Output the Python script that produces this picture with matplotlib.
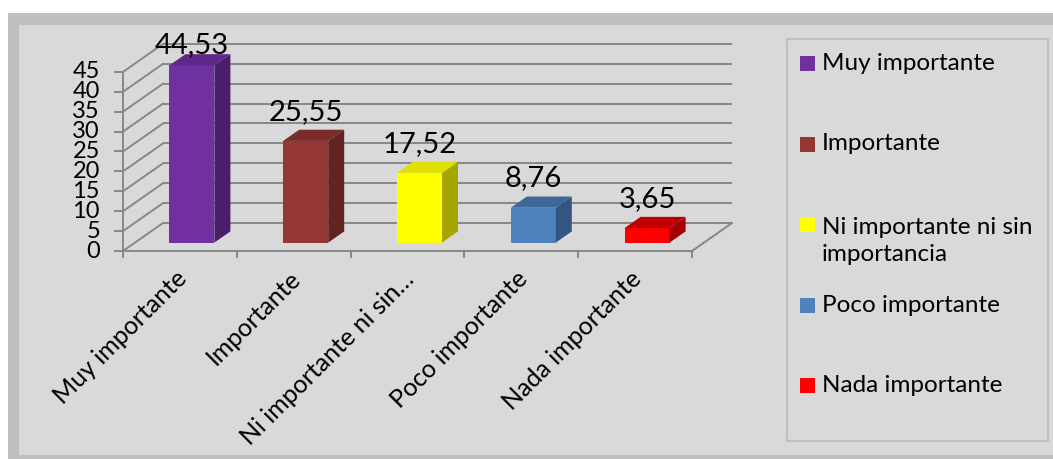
import matplotlib
matplotlib.use("Agg")
import matplotlib.pyplot as plt
from matplotlib.patches import Polygon, Rectangle

# ---------------- data ----------------
categories = ["Muy importante", "Importante", "Ni importante ni sin importancia",
              "Poco importante", "Nada importante"]
axis_labels = ["Muy importante", "Importante", "Ni importante ni sin\u2026",
               "Poco importante", "Nada importante"]
legend_labels = ["Muy importante", "Importante", "Ni importante ni sin\nimportancia",
                 "Poco importante", "Nada importante"]
values = [44.53, 25.55, 17.52, 8.76, 3.65]
y_ticks = [0, 5, 10, 15, 20, 25, 30, 35, 40, 45]

front_colors = ["#7030A0", "#953735", "#FFFF00", "#4F81BD", "#FF0000"]
side_colors = ["#4A1E6B", "#622321", "#A6A600", "#34557F", "#A60000"]
top_colors = ["#5D2888", "#7A2C2A", "#E0E000", "#3E6798", "#C00000"]

# ---------------- style ----------------
plt.rcParams['font.family'] = ['Lato', 'DejaVu Sans']
W, H = 1053, 459
GRID = "#878787"
BG = "#D9D9D9"
FRAME = "#BFBFBF"

fig = plt.figure(figsize=(W / 100, H / 100), dpi=100)
fig.patch.set_facecolor("white")

def disp(xp, yp):
    """pixel (from top-left) -> display coords"""
    return xp, H - yp

# outer frame
fig.patches.append(Rectangle(disp(8, 470), 1100, 470 - 13, transform=None,
                             facecolor=FRAME, edgecolor="none", zorder=0))
fig.patches.append(Rectangle(disp(19, 455), 1100, 455 - 25, transform=None,
                             facecolor=BG, edgecolor="none", zorder=0))
# legend box
fig.patches.append(Rectangle(disp(787, 441), 1048 - 787, 441 - 39, transform=None,
                             facecolor=BG, edgecolor=FRAME, lw=1.5, zorder=1))

# plot axes: x in category units, y in value units
X0, SX = 123.0, 113.8   # px of category 0, px per category
Y0, SY = 251.0, 3.98    # px (from top) of value 0, px per unit
ax = fig.add_axes([0, 0, 1, 1])
ax.set_zorder(5)
ax.set_xlim(-X0 / SX, (W - X0) / SX)
ax.set_ylim(-(H - Y0) / SY, Y0 / SY)
ax.axis("off")
ax.patch.set_alpha(0)

n = len(values)
DX = 40 / SX       # depth offset in x units
DY = 28 / SY       # depth offset in value units
ymax = y_ticks[-1]
lw = 1.4

# back wall & left wall gridlines
for v in y_ticks:
    ax.plot([DX, n + DX], [v + DY, v + DY], color=GRID, lw=lw, zorder=1,
            solid_capstyle="butt")
    ax.plot([0, DX], [v, v + DY], color=GRID, lw=lw, zorder=1)
# floor
ax.plot([0, n], [0, 0], color=GRID, lw=lw, zorder=1)
ax.plot([n, n + DX], [0, DY], color=GRID, lw=lw, zorder=1)
# vertical axis + ticks
ax.plot([0, 0], [0, ymax], color=GRID, lw=lw, zorder=1)
tick_len = 8 / SX
for v in y_ticks:
    ax.plot([-tick_len, 0], [v, v], color=GRID, lw=lw, zorder=1)
    ax.text(-23 / SX, v, str(v), ha="right", va="center", fontsize=17,
            color="black")
# category ticks
for i in range(n + 1):
    ax.plot([i, i], [0, -6 / SY], color=GRID, lw=lw, zorder=1)

# bars
bw = 45 / SX
d0, d1 = 0.3, 0.7
xs = [i + 0.5 + d0 * DX for i in range(n)]
bottom = d0 * DY
ax.bar(xs, values, width=bw, bottom=bottom, color=front_colors,
       edgecolor="none", zorder=3)
dd = (d1 - d0)
for x, v, sc, tc in zip(xs, values, side_colors, top_colors):
    xl, xr = x - bw / 2, x + bw / 2
    top = bottom + v
    ax.add_patch(Polygon([(xr, bottom), (xr + dd * DX, bottom + dd * DY),
                          (xr + dd * DX, top + dd * DY), (xr, top)],
                         closed=True, facecolor=sc, edgecolor="none", zorder=3))
    ax.add_patch(Polygon([(xl, top), (xr, top), (xr + dd * DX, top + dd * DY),
                          (xl + dd * DX, top + dd * DY)],
                         closed=True, facecolor=tc, edgecolor="none", zorder=3))
    lab = f"{v:.2f}".replace(".", ",")
    yb = min(top + dd * DY + 10 / SY, (Y0 - 53) / SY)
    ax.text(x, yb, lab, ha="center", va="baseline", fontsize=21,
            color="black", zorder=4)

# category labels
for i, lab in enumerate(axis_labels):
    ax.text(i + 0.5 + 3 / SX, -24 / SY, lab, rotation=45, rotation_mode="anchor",
            ha="right", va="center", fontsize=18, color="black")

# legend (manual, pixel placement)
ycent = [63, 144, 241, 305, 385]
for lab, c, yc in zip(legend_labels, front_colors, ycent):
    ysq = 224 if "\n" in lab else yc
    fig.patches.append(Rectangle(disp(800, ysq + 7.5), 15, 15, transform=None,
                                 facecolor=c, edgecolor="none", zorder=2))
    fig.text(822 / W, (H - yc) / H, lab, ha="left", va="center", fontsize=17.5,
             color="black", linespacing=1.35)

fig.savefig("out.png", dpi=100, facecolor=fig.get_facecolor())
